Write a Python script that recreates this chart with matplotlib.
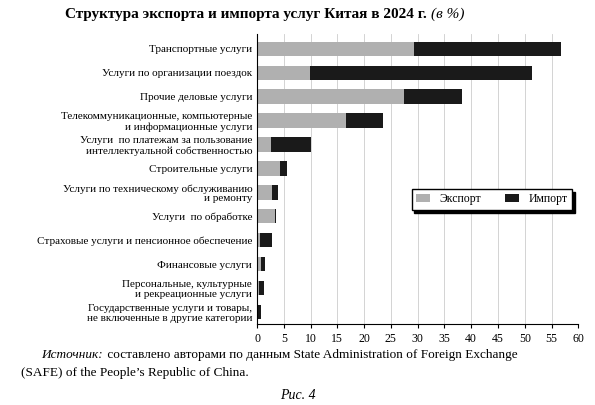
import matplotlib
matplotlib.use("Agg")
import matplotlib.pyplot as plt

plt.rcParams['font.family'] = ['Liberation Serif', 'DejaVu Serif']

categories = [
    "Транспортные услуги",
    "Услуги по организации поездок",
    "Прочие деловые услуги",
    "Телекоммуникационные, компьютерные\nи информационные услуги",
    "Услуги  по платежам за пользование\nинтеллектуальной собственностью",
    "Строительные услуги",
    "Услуги по техническому обслуживанию\nи ремонту",
    "Услуги  по обработке",
    "Страховые услуги и пенсионное обеспечение",
    "Финансовые услуги",
    "Персональные, культурные\nи рекреационные услуги",
    "Государственные услуги и товары,\nне включенные в другие категории",
]
export = [29.3, 9.9, 27.5, 16.6, 2.6, 4.3, 2.8, 3.4, 0.6, 0.8, 0.4, 0.2]
imports = [27.5, 41.5, 10.8, 6.9, 7.5, 1.3, 1.1, 0.1, 2.2, 0.7, 0.9, 0.6]

fig = plt.figure(figsize=(5.95, 4.05), dpi=100)
ax = fig.add_axes([0.432, 0.2, 0.54, 0.715])
y = list(range(len(categories)))
ax.barh(y, export, height=0.6, color='#b0b0b0', label='Экспорт')
ax.barh(y, imports, left=export, height=0.6, color='#1a1a1a', label='Импорт')
ax.set_ylim(len(categories) - 0.5, -0.6)
ax.set_yticks(y)
ax.set_yticklabels(categories, fontsize=8, linespacing=1.1)
ax.set_xlim(0, 60)
ax.set_xticks(range(0, 61, 5))
ax.tick_params(axis='x', labelsize=8.5, length=3)
ax.tick_params(axis='y', length=0)
ax.grid(axis='x', color='#cccccc', linewidth=0.6)
ax.set_axisbelow(True)
for s in ['top', 'right']:
    ax.spines[s].set_visible(False)
leg = ax.legend(loc='center right', bbox_to_anchor=(1.0, 0.43), ncol=2, fontsize=8.5,
                fancybox=False, shadow={'color': 'black', 'alpha': 1}, edgecolor='black',
                handlelength=1.2)

t = fig.text(0.11, 0.955, "Структура экспорта и импорта услуг Китая в 2024 г. ", fontsize=11,
             fontweight='bold', ha='left')
fig.text(0, 0, "(в %)", fontsize=11, style='italic', ha='left',
         transform=matplotlib.transforms.offset_copy(fig.transFigure, fig=fig))
fig.texts[-1].remove()
ax.annotate("(в %)", xy=(1, 0), xycoords=t, fontsize=11, style='italic', va='bottom',
            annotation_clip=False)
fig.text(0.07, 0.115, "Источник:", fontsize=9.5, style='italic')
fig.text(0.175, 0.115, " составлено авторами по данным State Administration of Foreign Exchange",
         fontsize=9.5)
fig.text(0.035, 0.072, "(SAFE) of the People’s Republic of China.", fontsize=9.5)
fig.text(0.5, 0.015, "Рис. 4", fontsize=10, style='italic', ha='center')

fig.savefig("out.png", dpi=100)
